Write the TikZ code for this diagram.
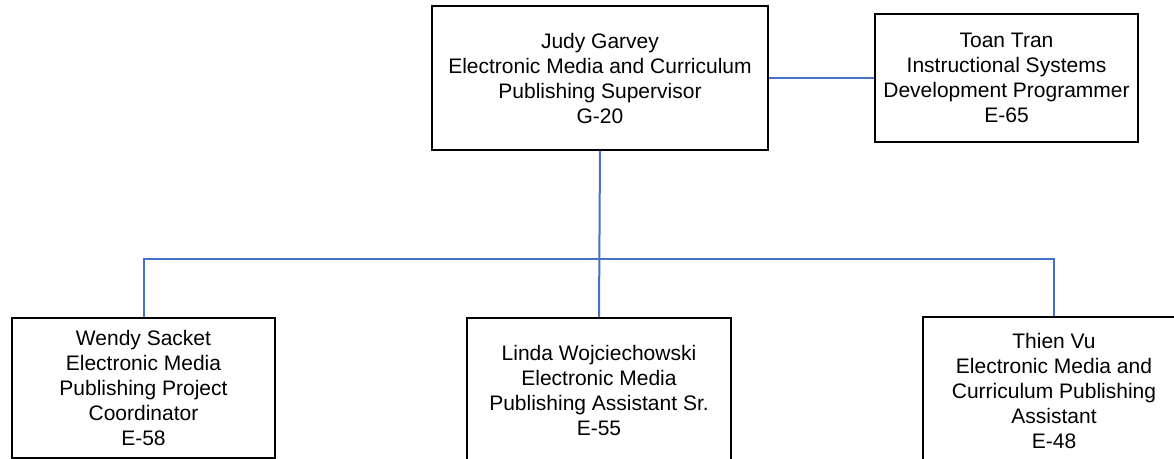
\documentclass[tikz,border=0pt]{standalone}
\usepackage{fontspec}
\setmainfont{Liberation Sans}
\usetikzlibrary{positioning}
\definecolor{linkblue}{RGB}{68,114,196}

\begin{document}
\begin{tikzpicture}[x=0.5pt, y=-0.5pt,
    every node/.style={font=\fontsize{10.5}{12.5}\selectfont, align=center},
    post/.style={draw, line width=1pt, inner sep=0pt},
    link/.style={draw=linkblue, line width=1pt}]
      \path[use as bounding box, clip] (0,0) rectangle (1174,459);

      \node[post, minimum width=168pt, minimum height=72pt] (judy) at (600,78)
        {Judy Garvey\\Electronic Media and Curriculum\\Publishing Supervisor\\G-20};
      \node[post, minimum width=131.5pt, minimum height=64pt] (toan) at (1006.5,78)
        {Toan Tran\\Instructional Systems\\Development Programmer\\E-65};
      \node[post, minimum width=131.5pt, minimum height=70pt] (wendy) at (143.5,388)
        {Wendy Sacket\\Electronic Media\\Publishing Project\\Coordinator\\E-58};
      \node[post, minimum width=132pt, minimum height=72pt] (linda) at (599,390)
        {Linda Wojciechowski\\Electronic Media\\Publishing Assistant Sr.\\E-55};
      \node[post, minimum width=131pt, minimum height=74pt] (thien) at (1054,391)
        {Thien Vu\\Electronic Media and\\Curriculum Publishing\\Assistant\\E-48};

      \coordinate (bus) at (600,259);

      \path[link] (judy.east) -- (toan.west);
      \path[link] (judy.south) -- (linda.north);
      \path[link] (wendy.north) |- (bus) -| (thien.north);
    \end{tikzpicture}
\end{document}
